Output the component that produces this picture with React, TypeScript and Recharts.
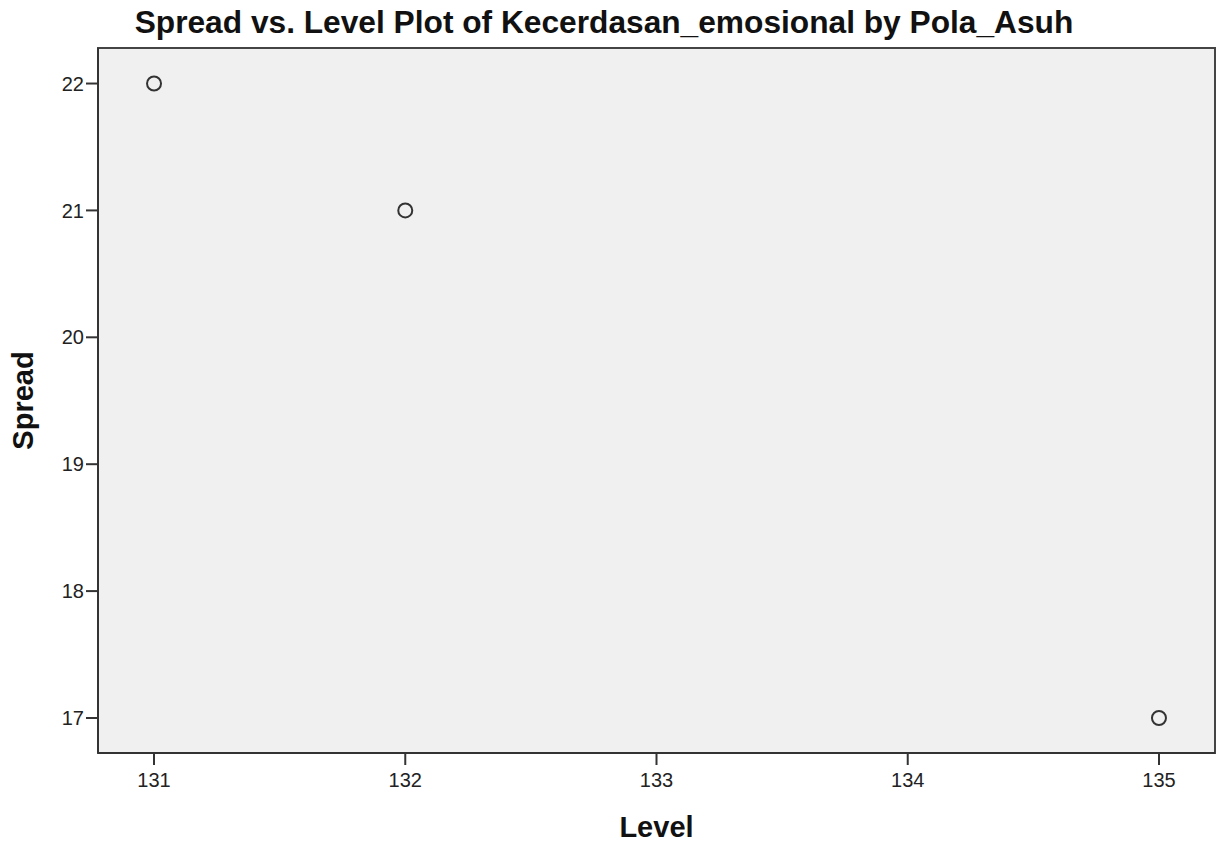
import { ScatterChart, Scatter, XAxis, YAxis, CartesianGrid, Label, ReferenceArea } from 'recharts';

const levels = [131, 132, 135];
const spreads = [22, 21, 17];
const xTicks = [131, 132, 133, 134, 135];
const yTicks = [17, 18, 19, 20, 21, 22];

const data = levels.map((level, i) => ({ level, spread: spreads[i] }));

const FONT = "'Liberation Sans', Arial, sans-serif";
const X_DOMAIN = [130.777, 135.223];
const Y_DOMAIN = [16.724, 22.28];

const Ring = (props: any) => (
  <circle cx={props.cx} cy={props.cy} r={7} fill="none" stroke="#333" strokeWidth={2} />
);

export default function App() {
  return (
    <div style={{ position: 'absolute', left: 0, top: 0, width: 1219, height: 846, background: '#fff', fontFamily: FONT }}>
      <div
        style={{
          position: 'absolute',
          left: 0,
          top: 0,
          width: 1208,
          textAlign: 'center',
          fontSize: 31.7,
          fontWeight: 'bold',
          color: '#111',
          lineHeight: '44px',
        }}
      >
        Spread vs. Level Plot of Kecerdasan_emosional by Pola_Asuh
      </div>
      <ScatterChart width={1219} height={846} margin={{ top: 48, right: 4, bottom: 0, left: 0 }}>
        <CartesianGrid fill="#f0f0f0" horizontal={false} vertical={false} />
        <XAxis
          dataKey="level"
          type="number"
          domain={X_DOMAIN}
          ticks={xTicks}
          allowDataOverflow
          height={93}
          tickSize={12}
          tickMargin={8}
          axisLine={{ stroke: '#333', strokeWidth: 2 }}
          tickLine={{ stroke: '#333', strokeWidth: 2 }}
          tick={{ fill: '#222', fontSize: 20, fontFamily: FONT }}
        >
          <Label
            value="Level"
            position="insideBottom"
            offset={9}
            style={{ fontSize: 29, fontWeight: 'bold', fill: '#111', fontFamily: FONT }}
          />
        </XAxis>
        <YAxis
          dataKey="spread"
          type="number"
          domain={Y_DOMAIN}
          ticks={yTicks}
          allowDataOverflow
          width={98}
          tickSize={12}
          tickMargin={2}
          axisLine={{ stroke: '#333', strokeWidth: 2 }}
          tickLine={{ stroke: '#333', strokeWidth: 2 }}
          tick={{ fill: '#222', fontSize: 20, fontFamily: FONT }}
        >
          <Label
            value="Spread"
            angle={-90}
            position="insideLeft"
            offset={23}
            style={{ textAnchor: 'middle', fontSize: 29, fontWeight: 'bold', fill: '#111', fontFamily: FONT }}
          />
        </YAxis>
        <ReferenceArea
          x1={X_DOMAIN[0]}
          x2={X_DOMAIN[1]}
          y1={Y_DOMAIN[0]}
          y2={Y_DOMAIN[1]}
          fill="none"
          stroke="#444"
          strokeWidth={2}
          ifOverflow="visible"
        />
        <Scatter data={data} shape={Ring} isAnimationActive={false} />
      </ScatterChart>
    </div>
  );
}
